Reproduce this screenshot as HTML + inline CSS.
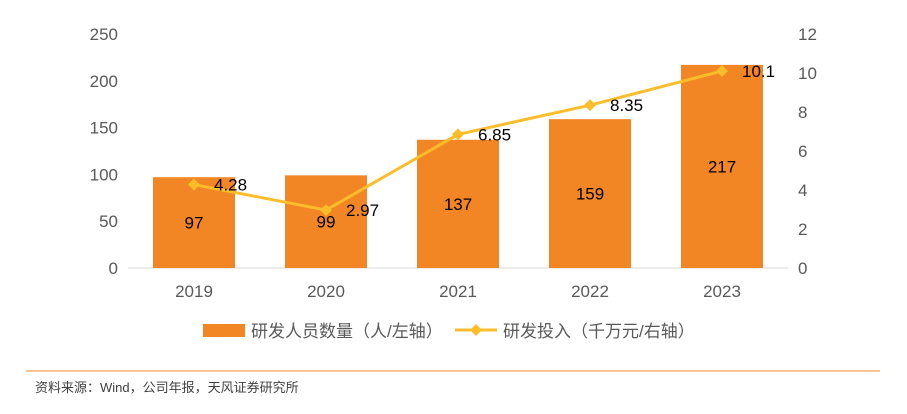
<!DOCTYPE html>
<html><head><meta charset="utf-8"><style>
body{margin:0;background:#fff;width:907px;height:409px;overflow:hidden;font-family:"Liberation Sans","Noto Sans CJK SC",sans-serif}
</style></head><body>
<svg id="c" width="907" height="409" xmlns="http://www.w3.org/2000/svg"></svg>
<script>
const categories=["2019","2020","2021","2022","2023"];
const staff=[97,99,137,159,217];
const invest=[4.28,2.97,6.85,8.35,10.1];
const investLabels=["4.28","2.97","6.85","8.35","10.1"];
const leftTicks=[0,50,100,150,200,250];
const rightTicks=[0,2,4,6,8,10,12];
const svg=document.getElementById('c');
const NS='http://www.w3.org/2000/svg';
const x0=128,x1=788,yTop=34,yBot=268;
const band=(x1-x0)/categories.length;
const xc=i=>x0+band*(i+0.5);
const yL=v=>yBot-(v/250)*(yBot-yTop);
const yR=v=>yBot-(v/12)*(yBot-yTop);
function mk(t,a,txt){const e=document.createElementNS(NS,t);for(const k in a)e.setAttribute(k,a[k]);if(txt!==undefined)e.textContent=txt;svg.appendChild(e);return e;}
leftTicks.forEach(v=>{const e=mk('text',{x:118,y:yL(v)+6,'text-anchor':'end','font-size':17,fill:'#595959'},String(v));

});
rightTicks.forEach(v=>{const e=mk('text',{x:798,y:yR(v)+6,'text-anchor':'start','font-size':17,fill:'#595959'},String(v));

});
const ax=mk('line',{x1:x0,x2:x1,y1:yBot,y2:yBot,stroke:'#d9d9d9','stroke-width':1});


categories.forEach((c,i)=>{const e=mk('text',{x:xc(i),y:297,'text-anchor':'middle','font-size':17,fill:'#595959'},c);

});
staff.forEach((v,i)=>{const b=mk('rect',{x:xc(i)-41,y:yL(v),width:82,height:yBot-yL(v),fill:'#f28524'});


const t=mk('text',{x:xc(i),y:(yL(v)+yBot)/2+6,'text-anchor':'middle','font-size':17,fill:'#000'},String(v));

});
const pts=invest.map((v,i)=>xc(i)+','+yR(v)).join(' ');
const pl=mk('polyline',{points:pts,fill:'none',stroke:'#fbbd2a','stroke-width':3});


invest.forEach((v,i)=>{const x=xc(i),y=yR(v);
const d=mk('polygon',{points:`${x},${y-6} ${x+6},${y} ${x},${y+6} ${x-6},${y}`,fill:'#fbbd2a'});


const t=mk('text',{x:x+20,y:y+6,'font-size':17,fill:'#000'},investLabels[i]);

});
const l1=mk('rect',{x:203,y:324,width:42,height:13,fill:'#f28524'});


const lt1=mk('text',{x:251,y:337,'font-size':17,fill:'#595959'},'研发人员数量（人/左轴）');


const l2=mk('line',{x1:455,x2:497,y1:330,y2:330,stroke:'#fbbd2a','stroke-width':3});


const l3=mk('polygon',{points:'476,324 482,330 476,336 470,330',fill:'#fbbd2a'});


const lt2=mk('text',{x:503,y:337,'font-size':17,fill:'#595959'},'研发投入（千万元/右轴）');


const fl=mk('line',{x1:26,x2:880,y1:371,y2:371,stroke:'#f28524','stroke-width':1});


const src=mk('text',{x:35,y:392,'font-size':13,fill:'#404040'},'资料来源：Wind，公司年报，天风证券研究所');


</script>
</body></html>
